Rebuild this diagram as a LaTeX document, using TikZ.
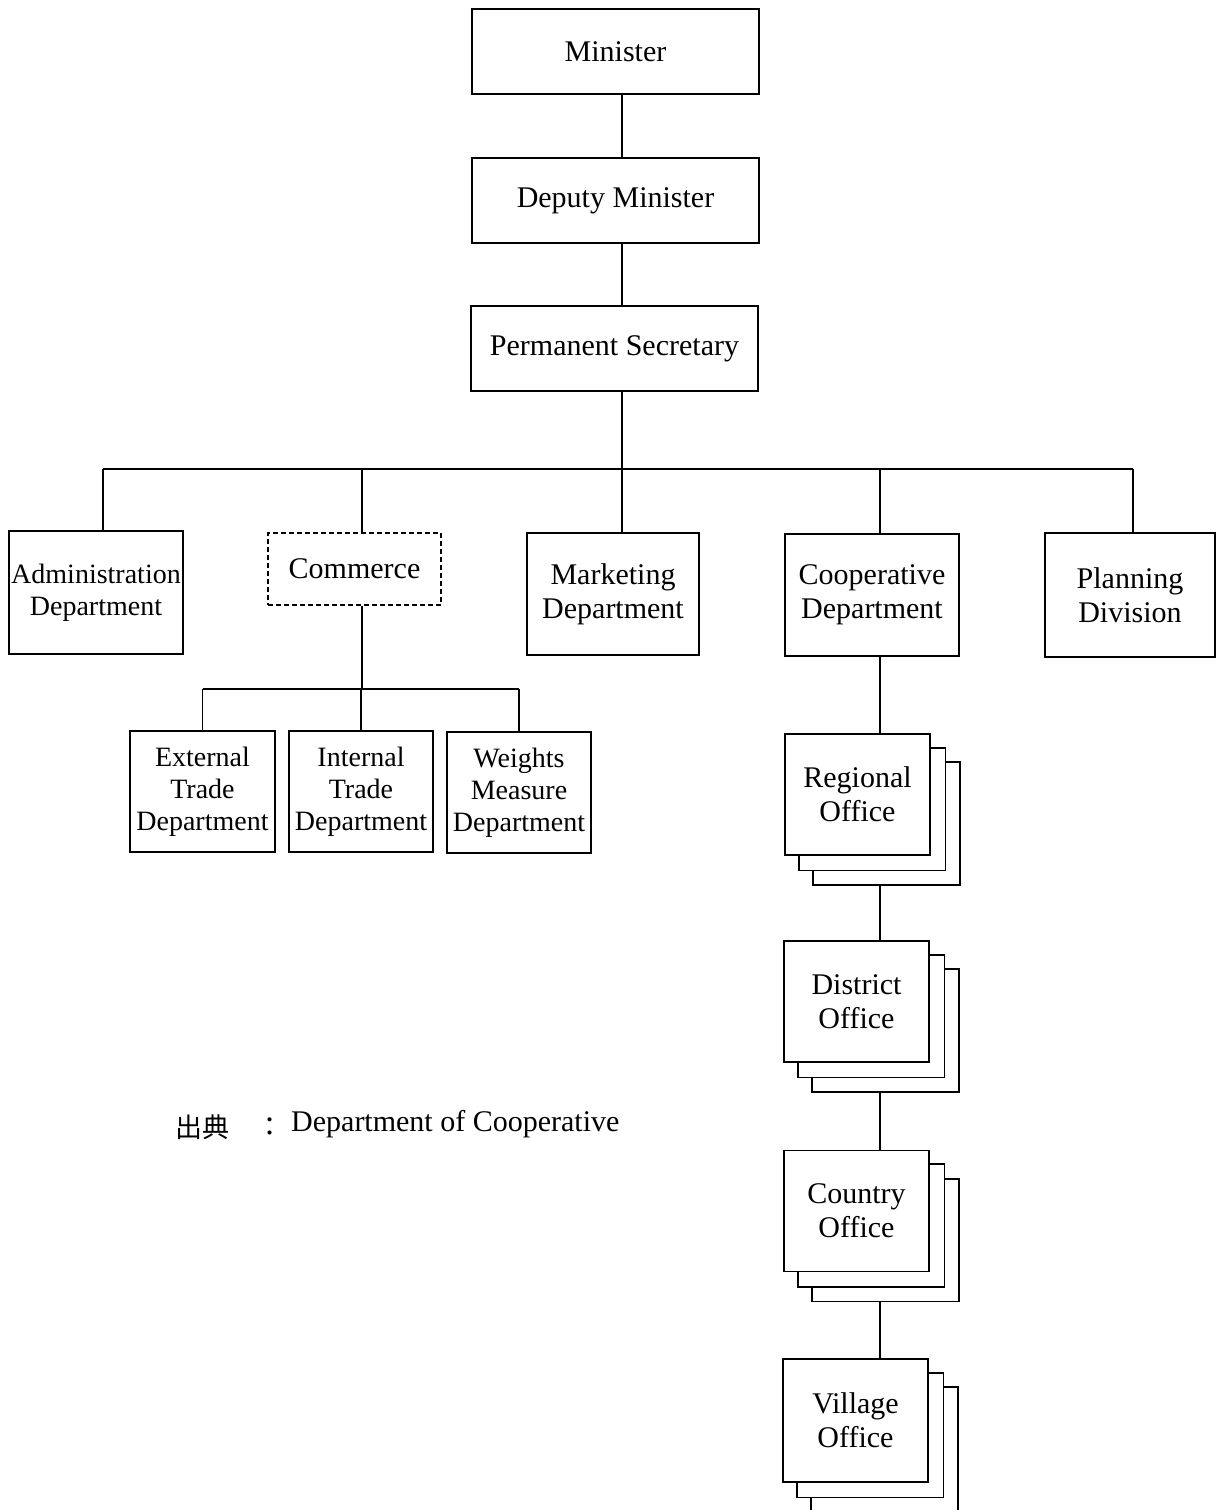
\documentclass[tikz,border=0pt]{standalone}
\usepackage{fontspec}
\setmainfont{Liberation Serif}
\newfontfamily\cjk{Noto Sans CJK JP}
\usetikzlibrary{backgrounds}

\tikzset{
  box/.style={draw, line width=1.6pt, fill=white, align=center, inner sep=0pt,
    font=\fontsize{30}{34}\selectfont},
  smallbox/.style={box, font=\fontsize{28}{32}\selectfont},
  stackbox/.style={box, minimum width=145pt, minimum height=121pt},
  sheet/.style={draw, line width=1.6pt, fill=white},
  link/.style={line width=1.6pt},
}

\begin{document}
\begin{tikzpicture}[x=1pt,y=-1pt]
\useasboundingbox (0,0) rectangle (1221,1510);

% top of the hierarchy
\node[box, minimum width=287pt, minimum height=85pt] (min) at (615.5,51.5) {Minister};
\node[box, minimum width=287pt, minimum height=85pt] (dep) at (615.5,200.5) {\raisebox{-4pt}{Deputy Minister}};
\node[box, minimum width=287pt, minimum height=85pt] (perm) at (614.5,348.5) {\raisebox{-2pt}{Permanent Secretary}};

% departments
\node[smallbox, minimum width=174pt, minimum height=123pt] (adm) at (96,592.5) {Administration\\Department};
\node[box, dashed, dash pattern=on 5pt off 3pt, minimum width=173pt, minimum height=72pt] (com) at (354.5,569) {Commerce};
\node[box, minimum width=172pt, minimum height=122pt] (mkt) at (613,594) {Marketing\\Department};
\node[box, minimum width=174pt, minimum height=122pt] (coop) at (872,595) {Cooperative\\Department};
\node[box, minimum width=170pt, minimum height=124pt] (plan) at (1130,595) {Planning\\Division};

% commerce sections
\node[smallbox, minimum width=145pt, minimum height=121pt] (ext) at (202.5,791.5) {External\\Trade\\Department};
\node[smallbox, minimum width=144pt, minimum height=121pt] (int) at (361,791.5) {Internal\\Trade\\Department};
\node[smallbox, minimum width=144pt, minimum height=121pt] (wgt) at (519,792.5) {Weights\\Measure\\Department};

% field offices: front sheet of each stack
\node[stackbox] (reg) at (857.5,794.5) {Regional\\Office};
\node[stackbox] (dis) at (856.5,1001.5) {District\\Office};
\node[stackbox] (cty) at (856.5,1211) {Country\\Office};
\node[stackbox, minimum height=123pt] (vil) at (855.5,1420.5) {Village\\Office};

% the two sheets stacked behind each office
\begin{pgfonlayer}{background}
  \foreach \n in {reg,dis,cty,vil} {
    \draw[sheet] ([xshift=29pt,yshift=-29pt]\n.north west) rectangle ([xshift=29pt,yshift=-29pt]\n.south east);
    \draw[sheet] ([xshift=14.5pt,yshift=-14.5pt]\n.north west) rectangle ([xshift=14.5pt,yshift=-14.5pt]\n.south east);
  }
\end{pgfonlayer}

% connectors
\coordinate (spine) at (622,0);
\coordinate (barL) at (103,469);
\coordinate (barR) at (1133,469);
\draw[link] (min.south -| spine) -- (dep.north -| spine);
\draw[link] (dep.south -| spine) -- (perm.north -| spine);
\draw[link] (perm.south -| spine) -- (spine |- barL);
\draw[link] (barL) -- (barR);
\draw[link] ([xshift=7pt]adm.north) -- ([xshift=7pt]adm.north |- barL);
\draw[link] ([xshift=7.5pt]com.north) -- ([xshift=7.5pt]com.north |- barL);
\draw[link] ([xshift=9pt]mkt.north) -- ([xshift=9pt]mkt.north |- barL);
\draw[link] ([xshift=8pt]coop.north) -- ([xshift=8pt]coop.north |- barL);
\draw[link] ([xshift=3pt]plan.north) -- ([xshift=3pt]plan.north |- barL);

\coordinate (cbar) at (0,689);
\draw[link] ([xshift=7.5pt]com.south) -- ([xshift=7.5pt]com.south |- cbar);
\draw[link] (ext.north |- cbar) -- (wgt.north |- cbar);
\draw[link] (ext.north) -- (ext.north |- cbar);
\draw[link] (int.north) -- (int.north |- cbar);
\draw[link] (wgt.north) -- (wgt.north |- cbar);

\coordinate (col) at (880,0);
\draw[link] (coop.south -| col) -- (reg.north -| col);
\draw[link] ([yshift=-29pt]reg.south -| col) -- (dis.north -| col);
\draw[link] ([yshift=-29pt]dis.south -| col) -- (cty.north -| col);
\draw[link] ([yshift=-29pt]cty.south -| col) -- (vil.north -| col);

% source note
\node[anchor=west, inner sep=0pt, font=\cjk\fontsize{27}{30}\selectfont] (src1) at (175,1127) {出典};
\node[inner sep=0pt, font=\cjk\fontsize{27}{30}\selectfont] (src2) at (270,1127) {：};
\node[anchor=west, inner sep=0pt, font=\fontsize{30}{34}\selectfont] (src3) at (291,1124) {Department of Cooperative};
\end{tikzpicture}
\end{document}
